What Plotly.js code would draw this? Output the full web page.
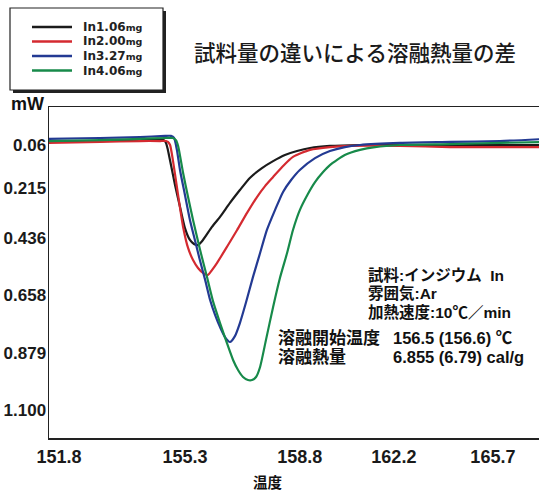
<!DOCTYPE html>
<html>
<head>
<meta charset="utf-8">
<script src="https://cdn.plot.ly/plotly-3.0.1.min.js"></script>
<style>
html,body{margin:0;padding:0;overflow:hidden;background:#fff;}
#chart{width:560px;height:492px;}
</style>
</head>
<body>
<div id="chart"></div>
<script>
// ---- data (heat flow axis points downward) ----
const seriesNames = ['In1.06mg', 'In2.00mg', 'In3.27mg', 'In4.06mg'];
const seriesColors = ['#1b1b1b', '#d42a30', '#233a93', '#178a4a'];

const tempBlack = [151.12,152.76,154.05,154.63,154.82,154.89,154.95,155.05,155.18,155.34,155.50,155.66,155.79,155.92,156.08,156.37,156.63,156.95,157.27,157.59,157.98,158.34,158.72,159.11,159.53,160.17,161.14,162.43,164.04,165.65,167.10];
const mwBlack = [-0.017,-0.021,-0.025,-0.030,-0.025,-0.013,0.017,0.082,0.167,0.261,0.352,0.403,0.420,0.425,0.403,0.347,0.304,0.244,0.189,0.137,0.095,0.065,0.039,0.022,0.009,0.000,-0.004,-0.004,-0.004,-0.004,-0.004];

const tempRed = [151.12,152.76,154.05,154.70,154.89,154.95,155.02,155.11,155.24,155.44,155.60,155.76,155.92,156.08,156.24,156.37,156.53,156.85,157.18,157.50,157.82,158.08,158.34,158.66,158.98,159.53,160.17,160.82,162.43,164.04,165.65,167.10];
const mwRed = [-0.013,-0.017,-0.021,-0.021,-0.021,-0.017,-0.004,0.060,0.176,0.347,0.437,0.489,0.523,0.544,0.553,0.532,0.502,0.433,0.360,0.287,0.219,0.172,0.133,0.086,0.047,0.017,0.005,0.000,0.000,0.005,0.005,0.005];

const tempBlue = [151.12,152.76,154.05,154.86,155.05,155.15,155.24,155.34,155.50,155.66,155.82,155.98,156.15,156.31,156.47,156.63,156.79,156.95,157.11,157.27,157.47,157.69,157.92,158.14,158.40,158.66,158.92,159.20,159.69,160.17,160.65,161.14,162.43,164.04,165.65,167.10];
const mwBlue = [-0.030,-0.034,-0.038,-0.043,-0.043,-0.034,0.017,0.103,0.210,0.317,0.403,0.489,0.574,0.660,0.724,0.776,0.819,0.840,0.815,0.759,0.669,0.562,0.459,0.360,0.275,0.197,0.146,0.103,0.052,0.022,0.005,-0.004,-0.013,-0.017,-0.021,-0.030];

const tempGreen = [151.12,152.76,154.05,154.86,155.11,155.21,155.28,155.44,155.60,155.76,155.98,156.21,156.40,156.63,156.85,157.05,157.21,157.37,157.53,157.66,157.79,157.92,158.11,158.34,158.56,158.79,158.98,159.20,159.46,159.69,159.95,160.17,160.65,161.14,161.62,162.43,164.04,165.65,167.10];
const mwGreen = [-0.021,-0.025,-0.030,-0.034,-0.034,-0.025,0.000,0.116,0.219,0.317,0.442,0.562,0.664,0.759,0.844,0.917,0.960,0.990,1.003,1.003,0.990,0.947,0.831,0.690,0.566,0.459,0.360,0.275,0.206,0.155,0.112,0.082,0.039,0.017,0.005,-0.004,-0.008,-0.013,-0.017];

const xTickVals = [151.44, 155.50, 159.20, 162.23, 165.42];
const xTickText = ['151.8', '155.3', '158.8', '162.2', '165.7'];
const yTickVals = [-0.004, 0.180, 0.3945, 0.6387, 0.8872, 1.1314];
const yTickText = ['0.06', '0.215', '0.436', '0.658', '0.879', '1.100'];

const chartTitle = '試料量の違いによる溶融熱量の差';
const xTitle = '温度';
const yUnit = 'mW';
const infoLines = ['試料:インジウム  In', '雰囲気:Ar', '加熱速度:10℃／min'];
const resultLabels = ['溶融開始温度', '溶融熱量'];
const resultValues = ['156.5 (156.6) ℃', '6.855 (6.79) cal/g'];

// ---- layout helpers (pixel -> paper) ----
const W = 560, H = 492;
const M = {l: 49, r: 10, t: 107, b: 54};
const PW = W - M.l - M.r, PH = H - M.t - M.b;
const px = v => (v - M.l) / PW;
const py = v => (H - M.b - v) / PH;

const xs = [tempBlack, tempRed, tempBlue, tempGreen];
const ys = [mwBlack, mwRed, mwBlue, mwGreen];
const traces = xs.map((x, i) => ({
  x: x, y: ys[i], type: 'scatter', mode: 'lines', name: seriesNames[i],
  line: {color: seriesColors[i], width: 2.2, shape: 'spline', smoothing: 0.6},
  showlegend: false
}));

const latin = 'Liberation Sans, Arial, sans-serif';
const jp = 'Liberation Sans, Noto Sans CJK JP, sans-serif';

const shapes = [];
const annotations = [];
// legend box with shadow
shapes.push({type: 'rect', xref: 'paper', yref: 'paper', x0: px(13), x1: px(166), y0: py(93), y1: py(11),
  fillcolor: '#222', line: {width: 0}, layer: 'above'});
shapes.push({type: 'rect', xref: 'paper', yref: 'paper', x0: px(10), x1: px(163), y0: py(90), y1: py(8),
  fillcolor: '#fff', line: {color: '#222', width: 1.2}, layer: 'above'});
const legY = [27, 41.5, 56, 70.5];
seriesNames.forEach((n, i) => {
  shapes.push({type: 'line', xref: 'paper', yref: 'paper', x0: px(32), x1: px(72), y0: py(legY[i]), y1: py(legY[i]),
    line: {color: seriesColors[i], width: 2.5}, layer: 'above'});
  annotations.push({xref: 'paper', yref: 'paper', x: px(81), y: py(legY[i]), xanchor: 'left', yanchor: 'middle',
    showarrow: false, text: n.replace('mg', '') + '<span style="font-size:9.5px">mg</span>',
    font: {family: 'DejaVu Sans, sans-serif', size: 12, color: '#222', weight: 'bold'}});
});
// unit label
annotations.push({xref: 'paper', yref: 'paper', x: px(27), y: py(104), xanchor: 'center', yanchor: 'middle',
  showarrow: false, text: yUnit, font: {family: latin, size: 18, color: '#111', weight: 'bold'}});
// x title
annotations.push({xref: 'paper', yref: 'paper', x: px(268), y: py(481), xanchor: 'center', yanchor: 'middle',
  showarrow: false, text: xTitle, font: {family: 'Noto Sans CJK JP, sans-serif', size: 14.5, color: '#111', weight: 'bold'}});
// info block
const infoY = [275, 293, 312];
infoLines.forEach((t, i) => annotations.push({xref: 'paper', yref: 'paper', x: px(366), y: py(infoY[i]),
  xanchor: 'left', yanchor: 'middle', showarrow: false, text: t,
  font: {family: jp, size: 15.5, color: '#111', weight: 'bold'}}));
const resY = [338, 357];
resultLabels.forEach((t, i) => {
  annotations.push({xref: 'paper', yref: 'paper', x: px(276), y: py(resY[i]), xanchor: 'left', yanchor: 'middle',
    showarrow: false, text: t, font: {family: jp, size: 17, color: '#111', weight: 'bold'}});
  annotations.push({xref: 'paper', yref: 'paper', x: px(391), y: py(resY[i]), xanchor: 'left', yanchor: 'middle',
    showarrow: false, text: resultValues[i], font: {family: jp, size: 16.5, color: '#111', weight: 'bold'}});
});

const layout = {
  width: W, height: H, margin: M,
  paper_bgcolor: '#fff', plot_bgcolor: '#fff',
  title: {text: chartTitle, x: 355 / W, xanchor: 'center', y: 1 - 53 / H, yanchor: 'middle',
    font: {family: 'Noto Sans CJK JP, sans-serif', size: 21.5, color: '#1a1a1a', weight: 500}},
  xaxis: {range: [151.12, 167.26], tickvals: xTickVals, ticktext: xTickText, showgrid: false, zeroline: false,
    showline: true, mirror: true, linecolor: '#222', linewidth: 1.5, ticks: '', ticklabelstandoff: 2,
    tickfont: {family: latin, size: 18, color: '#1a1a1a', weight: 'bold'}},
  yaxis: {range: [1.2514, -0.1668], tickvals: yTickVals, ticktext: yTickText, showgrid: false, zeroline: false,
    showline: true, mirror: true, linecolor: '#222', linewidth: 1.5, ticks: '', ticklabelstandoff: -2,
    tickfont: {family: latin, size: 17, color: '#1a1a1a', weight: 'bold'}},
  shapes: shapes, annotations: annotations, showlegend: false
};

Plotly.newPlot('chart', traces, layout, {displayModeBar: false, staticPlot: true});
</script>
</body>
</html>
